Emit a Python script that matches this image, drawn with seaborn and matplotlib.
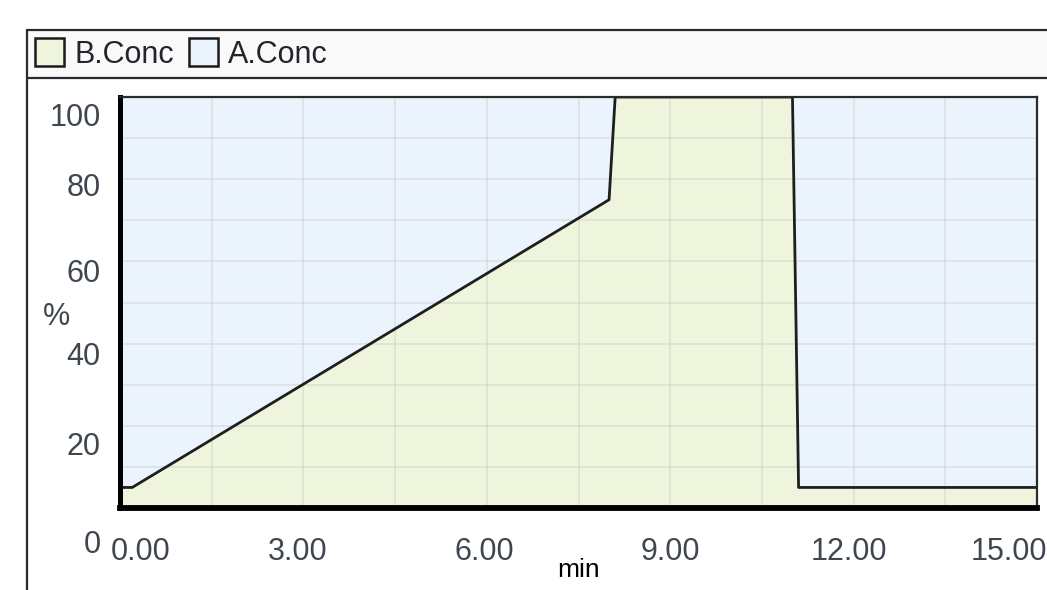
import numpy as np
import matplotlib
matplotlib.use('Agg')
import matplotlib.pyplot as plt
import seaborn as sns
from matplotlib import font_manager
from matplotlib.patches import Patch, Rectangle
from matplotlib.lines import Line2D
from matplotlib.transforms import ScaledTranslation, blended_transform_factory

# gradient program (time in min, concentrations in %)
time_min = [0.0, 0.2, 8.0, 8.1, 11.0, 11.1, 15.0]
b_conc = [5, 5, 75, 100, 100, 5, 5]
a_conc = [95, 95, 25, 0, 0, 95, 95]

x_ticks = [0, 3, 6, 9, 12, 15]
x_labels = ['0.00', '3.00', '6.00', '9.00', '12.00', '15.00']
y_labels = ['100', '80', '60', '40', '20', '0']
# where the software draws its y labels (they are offset from the grid)
y_label_pos = [95.0, 77.9, 57.0, 36.7, 14.8, -9.0]
x_label_shift_px = [21, -6, -2, 0, -5, -28]

green = '#eef5dc'
blue = '#ebf4fc'
text_col = '#3e4650'

sns.set_theme(style='white')
names = {f.name for f in font_manager.fontManager.ttflist}
if 'Liberation Sans Narrow' in names:
    tick_font, tick_size = 'Liberation Sans Narrow', 25
else:
    tick_font, tick_size = 'Liberation Sans', 22
plt.rcParams['font.family'] = ['Liberation Sans', 'DejaVu Sans']

fig = plt.figure(figsize=(10.47, 5.90), dpi=100)
W, H = 1047, 590

# legend strip on top
fig.add_artist(Rectangle((27 / W, 1 - 78 / H), 1 - 27 / W, 48 / H,
                         transform=fig.transFigure, facecolor='#f9f9f9', edgecolor='none'))
for yy in (30, 78):
    fig.add_artist(Line2D([27 / W, 1], [1 - yy / H] * 2, transform=fig.transFigure,
                          color='#2b2b2b', lw=1.6))
fig.add_artist(Line2D([27 / W] * 2, [0, 1 - 30 / H], transform=fig.transFigure,
                      color='#2b2b2b', lw=1.6))

ax = fig.add_axes([120 / W, 1 - 508 / H, 917 / W, 411 / H])
t = np.array(time_min)
b = np.array(b_conc)
a = np.array(a_conc)
ax.fill_between(t, 0, b, color=green, lw=0, zorder=1)
ax.fill_between(t, b, b + a, color=blue, lw=0, zorder=1)
sns.lineplot(x=time_min, y=b_conc, ax=ax, color='#1e1e1e', lw=2.0, zorder=4)

ax.set_xlim(0, 15)
ax.set_ylim(0, 100)
ax.set_xticks(x_ticks, labels=x_labels)
ax.set_xticks(np.arange(0, 15.01, 1.5), minor=True)
ax.set_yticks(np.arange(0, 101, 10), labels=[])
ax.grid(which='both', color='#b9bfc0', alpha=0.32, lw=1.3, zorder=2)
ax.set_axisbelow(False)
for ln in ax.get_xgridlines() + ax.get_ygridlines():
    ln.set_zorder(2)
ax.tick_params(axis='both', which='both', length=0)
ax.tick_params(axis='x', pad=21, labelsize=tick_size, labelcolor=text_col)
for lab, dx in zip(ax.get_xticklabels(), x_label_shift_px):
    lab.set_fontfamily(tick_font)
    lab.set_transform(lab.get_transform() + ScaledTranslation(dx / 100, 0, fig.dpi_scale_trans))
ax.set_xlabel('')
ax.set_ylabel('')

ax.spines['left'].set_linewidth(3.6)
ax.spines['left'].set_color('black')
ax.spines['bottom'].set_linewidth(4.2)
ax.spines['bottom'].set_color('black')
for s in ('top', 'right'):
    ax.spines[s].set_linewidth(1.6)
    ax.spines[s].set_color('#2a2a2a')
for s in ax.spines.values():
    s.set_zorder(5)

tr = blended_transform_factory(ax.transAxes, ax.transData)
for lab, yv in zip(y_labels, y_label_pos):
    ax.text(-0.021, yv, lab, transform=tr, ha='right', va='center',
            fontsize=tick_size, color=text_col, family=tick_font, clip_on=False)
ax.text(-0.069, 46.5, '%', transform=tr, ha='center', va='center',
        fontsize=tick_size, color=text_col, family=tick_font, clip_on=False)
ax.text(0.5, -0.151, 'min', transform=ax.transAxes, ha='center', va='center',
        fontsize=19, color='black')

handles = [Patch(facecolor=green, edgecolor='#1a1a1a', lw=1.8, label='B.Conc'),
           Patch(facecolor=blue, edgecolor='#1a1a1a', lw=1.8, label='A.Conc')]
fig.legend(handles=handles, loc='center left', bbox_to_anchor=(35 / W, 1 - 54 / H),
           ncol=2, frameon=False, fontsize=22, handlelength=0.95, handleheight=1.0,
           handletextpad=0.33, columnspacing=0.5, borderpad=0, borderaxespad=0,
           labelcolor='#22262c')

fig.savefig('out.png', dpi=100)
